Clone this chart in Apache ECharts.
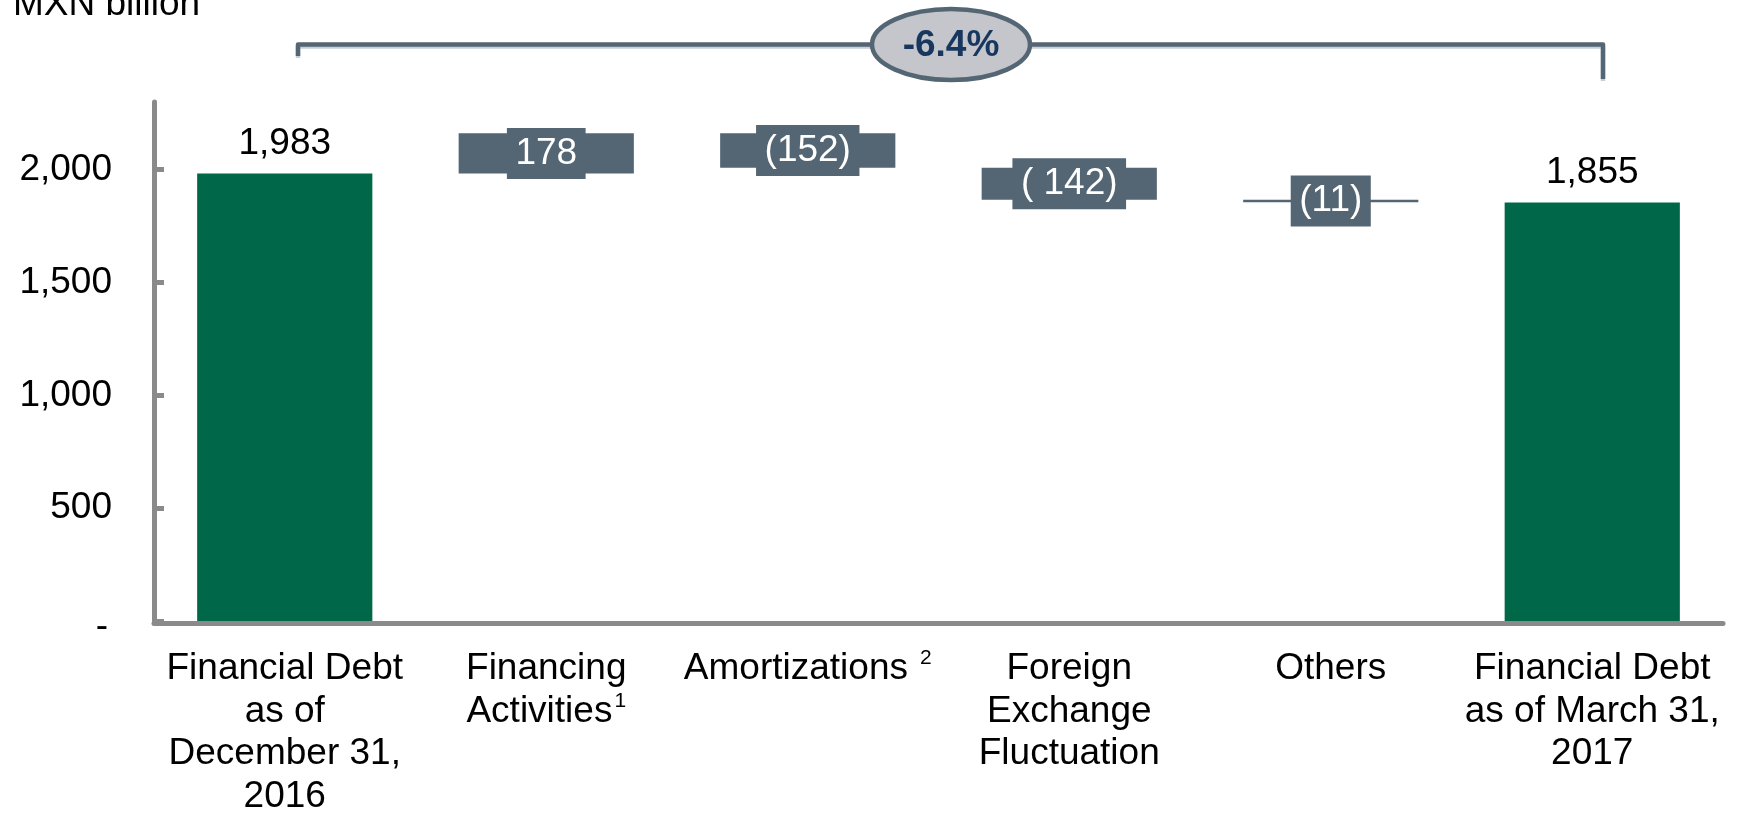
<!DOCTYPE html>
<html>
<head>
<meta charset="utf-8">
<title>Financial Debt</title>
<script src="https://cdn.jsdelivr.net/npm/echarts@6/dist/echarts.min.js"></script>
<style>
html, body { margin: 0; padding: 0; background: #fff; }
#debt_chart { width: 1738px; height: 814px; }
</style>
</head>
<body>
<div id="debt_chart"></div>
<script>
var categories = [
    'Financial Debt\nas of\nDecember 31,\n2016',
    'Financing\nActivities',
    'Amortizations',
    'Foreign\nExchange\nFluctuation',
    'Others',
    'Financial Debt\nas of March 31,\n2017'
];
var footnotes = ['', '1', '2', '', '', ''];
var openingDebt = 1983;
var closingDebt = 1855;
var changes = [178, -152, -142, -11];
var changeLabels = ['178', '(152)', '( 142)', '(11)'];
var yTicks = [0, 500, 1000, 1500, 2000];
var totalChange = '-6.4%';
var unitLabel = 'MXN billion';

var FONT = '"Liberation Sans", Arial, sans-serif';
var SLATE = '#546674';
var GREEN = '#006848';
var AXIS_GREY = '#8a8a8a';

// waterfall: invisible base + floating change + totals, all in one stack
var baseData = [0];
var changeData = ['-'];
var totalData = [openingDebt];
var running = openingDebt;
for (var i = 0; i < changes.length; i++) {
    var next = running + changes[i];
    baseData.push(Math.min(running, next));
    changeData.push(Math.abs(changes[i]));
    totalData.push('-');
    running = next;
}
baseData.push(0);
changeData.push('-');
totalData.push(closingDebt);

var myChart = echarts.init(document.getElementById('debt_chart'));
var option = {
    animation: false,
    textStyle: { fontFamily: FONT },
    grid: { left: 154, right: 15, top: 102, bottom: 193, outerBoundsMode: 'none', containLabel: false },
    xAxis: {
        type: 'category',
        data: categories,
        axisLine: { onZero: false, lineStyle: { color: AXIS_GREY, width: 5 } },
        offset: 2,
        axisTick: { show: false },
        axisLabel: {
            interval: 0,
            color: '#000',
            fontSize: 37,
            lineHeight: 42.5,
            margin: 25,
            formatter: function (value, idx) {
                var fn = footnotes[idx];
                return fn ? value + '{fn' + fn + '|' + fn + '}' : value;
            },
            rich: {
                fn1: { fontSize: 21, lineHeight: 22, verticalAlign: 'top', color: '#000', padding: [0, 0, 0, 2] },
                fn2: { fontSize: 21, lineHeight: 22, verticalAlign: 'top', color: '#000', padding: [0, 0, 9, 12] }
            }
        }
    },
    yAxis: {
        type: 'value',
        min: 0,
        max: 2300,
        interval: 500,
        splitLine: { show: false },
        axisLine: { show: true, lineStyle: { color: AXIS_GREY, width: 5 } },
        axisTick: {
            show: true,
            inside: true,
            length: 10,
            customValues: yTicks,
            lineStyle: { color: AXIS_GREY, width: 5 }
        },
        axisLabel: {
            color: '#000',
            fontSize: 37,
            margin: 42,
            customValues: yTicks,
            formatter: function (v) {
                return v === 0 ? '{dash|-}' : v.toLocaleString('en-US');
            },
            rich: {
                dash: { fontSize: 37, color: '#000', padding: [12, 4, 0, 0] }
            }
        }
    },
    series: [
        {
            name: 'base',
            type: 'bar',
            stack: 'debt',
            barWidth: '67%',
            silent: true,
            itemStyle: { color: 'transparent' },
            data: baseData
        },
        {
            name: 'change',
            type: 'bar',
            stack: 'debt',
            itemStyle: { color: SLATE },
            label: {
                show: true,
                position: 'inside',
                color: '#fff',
                fontSize: 37,
                lineHeight: 42,
                padding: [4.5, 8.5],
                backgroundColor: SLATE,
                formatter: function (p) {
                    return changeLabels[p.dataIndex - 1];
                }
            },
            data: changeData
        },
        {
            name: 'total',
            type: 'bar',
            stack: 'debt',
            itemStyle: { color: GREEN },
            label: {
                show: true,
                position: 'top',
                distance: 11,
                color: '#000',
                fontSize: 37,
                formatter: function (p) {
                    return Number(p.value).toLocaleString('en-US');
                }
            },
            data: totalData
        }
    ],
    graphic: [
        {
            type: 'text',
            left: 13,
            top: -14,
            style: { text: unitLabel, fill: '#000', fontSize: 37, fontFamily: FONT }
        },
        {
            type: 'polyline',
            shape: { points: [[298, 56], [298, 44.5], [1603, 44.5], [1603, 79]] },
            style: {
                stroke: SLATE, lineWidth: 4.5, fill: null, lineJoin: 'round',
                shadowColor: '#c8ced4', shadowOffsetY: 2, shadowBlur: 0
            }
        },
        {
            type: 'ellipse',
            shape: { cx: 951, cy: 44.5, rx: 79, ry: 35.5 },
            style: { fill: '#c4c6cb', stroke: SLATE, lineWidth: 4.5 }
        },
        {
            type: 'text',
            x: 951,
            y: 46,
            style: {
                text: totalChange,
                fill: '#17375e',
                fontSize: 37,
                fontWeight: 'bold',
                fontFamily: FONT,
                align: 'center',
                verticalAlign: 'middle'
            }
        }
    ]
};
myChart.setOption(option);
</script>
</body>
</html>
